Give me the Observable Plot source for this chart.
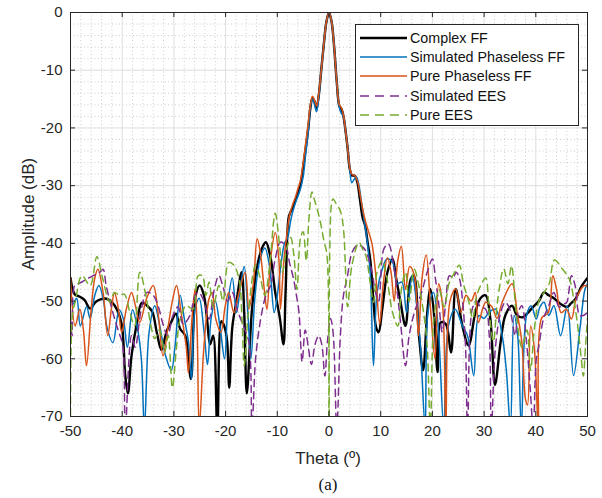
<!DOCTYPE html>
<html><head><meta charset="utf-8">
<script src="https://cdn.jsdelivr.net/npm/d3@7"></script>
<script src="https://cdn.jsdelivr.net/npm/@observablehq/plot@0.6"></script>
<style>
body{margin:0;background:#fff;font-family:"Liberation Sans",Arial,sans-serif;color:#262626;}
#wrap{position:relative;width:602px;height:498px;overflow:hidden;}
.lab{position:absolute;white-space:nowrap;font-size:17px;color:#262626;}
#legend{position:absolute;left:355px;top:24px;width:224px;height:102px;border:1px solid #262626;background:#fff;box-sizing:border-box;padding-top:3px;}
.row{display:flex;align-items:center;height:19.4px;font-size:14.3px;color:#111;}
.row svg{margin-left:4px;margin-right:3px;}
</style></head><body><div id="wrap"></div>
<script>
// ---- tick labels ----
const xTicks = [-50, -40, -30, -20, -10, 0, 10, 20, 30, 40, 50];
const yTicks = [0, -10, -20, -30, -40, -50, -60, -70];
const xMinor = [-48,-46,-44,-42,-38,-36,-34,-32,-28,-26,-24,-22,-18,-16,-14,-12,-8,-6,-4,-2,2,4,6,8,12,14,16,18,22,24,26,28,32,34,36,38,42,44,46,48];
const yMinor = [-2,-4,-6,-8,-12,-14,-16,-18,-22,-24,-26,-28,-32,-34,-36,-38,-42,-44,-46,-48,-52,-54,-56,-58,-62,-64,-66,-68];

// ---- series names ----
const seriesNames = ["Complex FF", "Simulated Phaseless FF", "Pure Phaseless FF", "Simulated EES", "Pure EES"];

// ---- Complex FF ----
const thetaComplex = [-50,-49.2,-48.3,-47.3,-46.2,-45.2,-44.2,-43,-42,-41,-40.1,-39.4,-38.9,-38.2,-37.2,-36.2,-35.2,-34.2,-33.3,-32.4,-31.4,-30.6,-29.6,-28.8,-27.8,-26.7,-25.8,-25,-24.2,-23.6,-23,-22.4,-21.6,-20.8,-20.2,-19.7,-19.3,-18.7,-17.8,-16.9,-16.4,-15.9,-14.9,-13.9,-12.8,-12.2,-11.3,-10.4,-9.5,-8.8,-8.4,-7.8,-7.4,-7,-6.5,-6,-5.5,-5,-4.5,-4,-3.6,-3.2,-2.8,-2.4,-2,-1.5,-1,-0.5,0,0.5,1,1.5,2,2.4,2.8,3.2,3.6,4,4.4,5,5.5,6,6.5,7,7.5,8,8.6,9.1,9.6,10.3,11.3,12.3,12.9,13.8,14.8,15.8,16.4,17.4,18.2,19,19.6,20.3,21,21.6,22.6,23.6,24.5,25.8,27,28.3,29.3,30.3,31.2,32.1,33.2,34.1,35.4,36.4,37.5,38.5,39.5,40.6,41.6,42.5,43.5,44.8,46.1,46.7,47.7,48.8,50];
const ampComplex = [-46,-48.8,-49.2,-49.8,-51.3,-50.2,-49.7,-49.6,-50.2,-51.5,-54,-63,-66,-59.5,-54,-50.3,-50.8,-51.8,-55.5,-58.5,-55.2,-53.8,-52.2,-54.8,-56,-63.5,-49,-47.3,-49,-53,-57.5,-56,-72,-53.5,-54.5,-57,-65,-54.5,-49.5,-45,-52,-66,-51.5,-44,-40.5,-39.8,-42.5,-48.5,-53,-57.5,-48.5,-35.5,-34.5,-33.8,-32.5,-31.3,-29.8,-26.8,-23.5,-20,-16.5,-14.8,-15.4,-16.5,-14.5,-10,-5.5,-1.6,0,-1.6,-6,-12,-16.2,-16.7,-18,-20.5,-23.5,-27,-28.2,-28.3,-29.5,-32.5,-35.5,-37,-40,-43,-50,-54.5,-55.4,-51.4,-45,-42.7,-45.6,-50,-54.3,-46.2,-45.6,-56,-62,-52,-47.9,-52,-62.3,-53.7,-54,-58.9,-47.9,-54.3,-57.7,-52,-49.5,-49,-53,-64.5,-57.1,-52.5,-50.8,-52.5,-52.8,-52,-51,-50,-48.5,-49,-49.5,-50.5,-51,-50.5,-49.6,-47.5,-46];

// ---- Simulated Phaseless FF ----
const thetaSimFF = [-50,-49.5,-48.8,-48.1,-46.9,-46.2,-45.3,-44.5,-43.6,-43,-41.8,-40.6,-39.8,-39,-38,-37,-36.3,-35.7,-34.8,-33.7,-32.8,-31.6,-30.5,-29.8,-28.8,-28,-27.2,-26.6,-25.9,-25.1,-24.2,-23.5,-22.8,-22,-21,-20.2,-19.5,-18.7,-17.9,-17.2,-16.4,-15.7,-15.1,-14.3,-13.4,-12.4,-11.5,-10.6,-10,-9.2,-8.6,-8,-7.4,-7,-6.5,-6,-5.5,-5,-4.5,-4,-3.6,-3.2,-2.8,-2.4,-2,-1.5,-1,-0.5,0,0.5,1,1.5,2,2.4,2.8,3.2,3.6,4,4.4,4.8,5.3,5.8,6.3,6.8,7.3,8,8.6,9.3,10.3,11.2,12.3,13.2,14.1,15,16.1,17,17.7,18.6,19.2,20.2,21.1,22.2,23.1,24.4,25.8,26.8,28,29,30,30.9,32.2,33.5,34.3,35.1,35.8,36.5,37.2,38.2,39.1,40.1,40.8,41.6,42.5,43.5,44.8,46.1,47.3,48.6,49.5,50];
const ampSimFF = [-48.5,-50.5,-49.5,-54.3,-51,-53,-49,-47.3,-50,-54.3,-57.2,-51.5,-53,-58,-51.5,-55,-60,-72,-55.4,-50.8,-54,-59.5,-62,-58,-49,-53,-57,-63.5,-51.4,-49.5,-55,-61,-53,-50,-55,-60,-50,-46,-52,-48,-44,-52,-60,-49,-43,-40.8,-44,-52,-49,-43,-40,-39,-36,-34.5,-33,-31.8,-30.5,-28.5,-24.5,-20.5,-16.5,-15,-16,-17.2,-14.8,-10,-5.5,-1.6,0,-1.6,-6,-12,-16.5,-17.5,-18,-20.7,-23.5,-27,-29.5,-29,-28.5,-30,-33,-36,-39,-45.6,-61.2,-48.5,-44.5,-42.7,-43.3,-47,-46.7,-52,-45.6,-51,-58,-72,-51.4,-48.5,-54.3,-72,-54.3,-51.4,-54.3,-56,-62.9,-52.5,-53,-52,-51.4,-56,-62,-72,-52.5,-56,-72,-52.5,-50.8,-53.1,-51,-50.2,-52.5,-50.8,-56,-50.8,-62.9,-54.3,-48,-47];

// ---- Pure Phaseless FF ----
const thetaPureFF = [-50,-49.1,-48.2,-47.5,-46.9,-46,-45.3,-44.7,-43.7,-42.8,-42.1,-41.5,-40.8,-40.1,-39.2,-38.2,-37.4,-36.6,-35.3,-34,-33,-32.1,-31.1,-30.3,-29.5,-28.6,-27.6,-27.2,-26.5,-25.9,-25.5,-25.1,-24.2,-23.2,-22.6,-21.9,-20.9,-20.1,-19.4,-18.4,-17.4,-16.2,-15.5,-14.6,-13.9,-13.3,-12.6,-12,-11.3,-10.4,-9.7,-9.4,-8.7,-8.1,-7.6,-7,-6.5,-6,-5.5,-5,-4.5,-4,-3.6,-3.2,-2.8,-2.4,-2,-1.5,-1,-0.5,0,0.5,1,1.5,2,2.4,2.8,3.2,3.6,4,4.4,5,5.5,6,6.5,7,7.7,8.3,9,9.8,10.5,11.3,12,12.6,13.3,14,14.8,15.6,16.5,17.3,18,18.8,19.7,20.5,21.2,22,22.6,23.4,24.5,25.5,26.5,27.5,28.3,28.9,30.3,31.5,32.5,33.5,35.4,36.4,37.3,38,38.4,39,39.7,40.5,41.1,42.4,43.3,44,44.9,45.9,46.9,47.8,49.4,50];
const ampPureFF = [-46,-54.3,-51.4,-55,-61.2,-51.4,-46,-44.5,-48.5,-56,-51.4,-48.5,-51,-55.4,-51.4,-48.5,-51,-53.7,-49.6,-47.3,-52.5,-59.5,-54.3,-50,-47.3,-52,-58,-62.4,-53,-47.9,-55,-72,-58,-49.6,-48.5,-53.1,-55.4,-51,-48.5,-52,-48.5,-45,-51.4,-46.7,-39.2,-41.5,-47.3,-51.4,-42.7,-38.1,-42.7,-51.4,-42.7,-38,-35,-33.2,-32,-30.5,-29,-26,-22.5,-19,-16,-14.5,-15.2,-16.2,-14.2,-10,-5.5,-1.6,0,-1.6,-6,-12,-16,-16.5,-17.8,-20.5,-23.5,-26.8,-28,-28.3,-29.2,-31.5,-34,-36,-38.1,-40,-45,-54,-47,-42.5,-45,-50,-43,-40.5,-48,-44,-45.5,-56,-46,-42,-52,-60,-47,-51,-72,-50,-47.9,-52,-49,-50,-48.5,-53.7,-50.2,-51,-53,-50.2,-47,-52,-57.1,-67,-68,-54.3,-58,-72,-53,-52,-45.6,-47.9,-52,-51.4,-53.1,-49.6,-47.3,-47.5];

// ---- Simulated EES ----
const thetaSimEES = [-50,-49.7,-49.2,-48.5,-47.8,-46.9,-45.6,-44.3,-43.7,-43.1,-41.8,-40.8,-39.9,-39.4,-38.2,-37.5,-36.3,-35.2,-34,-33,-32.2,-31.2,-30.2,-29.2,-28.2,-26.9,-25.9,-25.2,-24.2,-23.2,-22.2,-21.3,-20.5,-19.6,-18.7,-17.8,-16.7,-15.5,-14.9,-14.2,-13.2,-12.2,-11.3,-10.4,-9.4,-8.4,-7.6,-6.9,-6.3,-5.8,-5.2,-4.6,-4,-3.4,-2.7,-2,-1.4,-0.8,-0.3,0.3,0.8,1.5,2.2,2.8,3.5,4.5,5.5,6.3,7.1,8.3,9,9.6,10.6,11.5,12.3,13.2,13.9,14.8,15.5,16.5,17.9,19,20,20.6,21.3,21.9,22.6,23.3,24,24.6,25.2,25.8,26.4,26.8,27.7,28.5,29.3,30.3,31,31.4,32.2,33.2,34.1,35,36,36.6,37.3,38.2,38.9,39.5,40.1,40.6,41.5,42.5,43.5,44.5,45.5,46,46.9,47.6,48.5,49.2,50];
const ampSimEES = [-53,-56,-47.3,-47,-46.7,-46.2,-45.6,-45,-44.5,-47.3,-52,-55,-57.7,-72,-56,-58,-51.4,-48.5,-49,-51,-53.7,-56,-52.5,-51,-54,-52.5,-49,-48.5,-50,-53.1,-48,-45.6,-47.5,-50,-48.5,-51.4,-54,-57.1,-72,-60,-53,-49,-47.3,-42.7,-39.8,-40.4,-43.5,-46,-49,-52,-60.5,-55,-58,-61,-57.5,-56,-57.5,-63,-57,-53,-55.5,-72,-56,-49,-46,-41.5,-40.3,-40.5,-41.3,-44.9,-48.5,-50,-41,-40.1,-42.7,-48.5,-54.3,-61.2,-56,-52,-48.5,-45,-42.7,-46.2,-51,-55.4,-50,-45.6,-46,-45,-46,-49.6,-57.7,-72,-51.4,-50,-51,-51.4,-56,-72,-58,-52,-50.2,-51.5,-56,-52,-50.8,-57.1,-64.9,-72,-60,-57.7,-53,-50.8,-48.5,-51,-50.5,-50.2,-45.6,-47.3,-52.5,-52.5,-52];

// ---- Pure EES ----
const thetaPureEES = [-50,-49.6,-49.1,-47.8,-46.2,-44.9,-43.8,-42.4,-41.5,-40.5,-39.6,-38.5,-37.6,-36.6,-35.3,-34.5,-33.7,-32.8,-31.8,-31.1,-30.3,-29.5,-28.8,-27.6,-26.3,-25.3,-24.5,-23.8,-23.2,-22.4,-21.3,-20.5,-19.4,-18.4,-17.4,-16.8,-16.4,-15.6,-14.2,-13.3,-12.4,-11.5,-10.4,-9.6,-9,-8.2,-7.4,-6.8,-6.2,-5.5,-5,-4.4,-3.9,-3.3,-2.8,-2.3,-1.6,-1,-0.4,0,0.5,0.8,1.3,2.2,2.8,3.6,4.4,5.8,6.5,7.1,8,8.6,9.3,10.3,11,12.3,13.3,14,14.8,15.5,16.5,17.3,18.3,19,19.6,20.3,21.3,22.3,23.2,24.3,25.2,26,27,27.8,28.6,29.5,30.3,31,31.8,32.6,33.8,34.6,35.3,36.2,37.3,38.3,39,39.7,40.6,41.6,42.6,43.6,45.2,46.5,47.4,48.2,48.8,49.2,49.6,50];
const ampPureEES = [-74,-52,-50.2,-45.6,-47.3,-42.3,-46,-50.2,-48.5,-49,-48.8,-52,-54.3,-45,-49.6,-54,-56.5,-55,-58.9,-56,-65,-58,-53.1,-50.8,-51.4,-45.6,-45.6,-49,-46.7,-51,-47.3,-50,-43.3,-43.8,-46.2,-53.7,-61.2,-52,-43.8,-46,-49,-44,-34.8,-40,-45,-41,-39,-42,-48,-39,-38,-43,-36,-31.1,-32.5,-34,-36.6,-39.5,-42,-80,-33,-32.3,-33,-34.4,-37.5,-51,-44,-39.8,-41,-42,-47,-50.2,-45,-43,-45,-52,-54.3,-48,-45,-50,-44.5,-47,-52,-58,-72,-53,-48,-51,-47,-45,-43.8,-47,-50,-53,-49,-47,-46,-52,-57,-50,-44.4,-47,-43.9,-52,-58,-55,-62,-55,-50,-48.5,-47,-42.9,-44.5,-46.2,-50,-55,-60,-63,-58,-53];

const series = [
  {name: seriesNames[0], t: thetaComplex, a: ampComplex, color: "#000000", w: 2.4, dash: null},
  {name: seriesNames[1], t: thetaSimFF, a: ampSimFF, color: "#0072BD", w: 1.5, dash: null},
  {name: seriesNames[2], t: thetaPureFF, a: ampPureFF, color: "#D95319", w: 1.5, dash: null},
  {name: seriesNames[3], t: thetaSimEES, a: ampSimEES, color: "#7E2F8E", w: 1.5, dash: "7,5"},
  {name: seriesNames[4], t: thetaPureEES, a: ampPureEES, color: "#77AC30", w: 1.5, dash: "7,5"}
];

const lineMarks = series.map(s => Plot.line(s.t.map((x, i) => ({x, y: s.a[i]})), {
  x: "x", y: "y", stroke: s.color, strokeWidth: s.w, strokeDasharray: s.dash,
  curve: "catmull-rom", clip: true
}));

const ax = "#262626";
const chart = Plot.plot({
  width: 602, height: 468,
  marginLeft: 70, marginRight: 15, marginTop: 12, marginBottom: 52,
  x: {domain: [-50, 50]},
  y: {domain: [-70, 0]},
  style: {fontFamily: "'Liberation Sans', Arial, sans-serif", fontSize: "15px", color: ax, background: "white", overflow: "visible"},
  marks: [
    Plot.gridX({ticks: xMinor, stroke: "#b8b8b8", strokeOpacity: 1, strokeWidth: 0.7, strokeDasharray: "1,2.5"}),
    Plot.gridY({ticks: yMinor, stroke: "#b8b8b8", strokeOpacity: 1, strokeWidth: 0.7, strokeDasharray: "1,2.5"}),
    Plot.gridX({ticks: xTicks, stroke: "#dedede", strokeOpacity: 1, strokeWidth: 1}),
    Plot.gridY({ticks: yTicks, stroke: "#dedede", strokeOpacity: 1, strokeWidth: 1}),
    ...lineMarks,
    Plot.ruleX(xTicks, {x: d => d, y1: -70, y2: -69.13, stroke: ax}),
    Plot.ruleX(xTicks, {x: d => d, y1: 0, y2: -0.87, stroke: ax}),
    Plot.ruleY(yTicks, {y: d => d, x1: -50, x2: -49.03, stroke: ax}),
    Plot.ruleY(yTicks, {y: d => d, x1: 50, x2: 49.03, stroke: ax}),
    Plot.frame({stroke: ax, strokeWidth: 1}),
    Plot.axisX({ticks: xTicks, tickSize: 0, tickPadding: 9, tickFormat: d => String(d), label: null, fontSize: 15}),
    Plot.axisY({ticks: yTicks, tickSize: 0, tickPadding: 8, tickFormat: d => String(d), label: null, fontSize: 15})
  ]
});

const wrap = document.getElementById("wrap");
wrap.appendChild(chart);

function addLabel(text, css) {
  const d = document.createElement("div");
  d.className = "lab";
  d.textContent = text;
  Object.assign(d.style, css);
  wrap.appendChild(d);
}
addLabel("Amplitude (dB)", {left: "29px", top: "214px", transform: "translate(-50%,-50%) rotate(-90deg)"});
addLabel("Theta (º)", {left: "328px", top: "459px", transform: "translate(-50%,-50%)"});
addLabel("(a)", {left: "328px", top: "485px", transform: "translate(-50%,-50%)", fontFamily: "'Liberation Serif', 'Times New Roman', serif", fontSize: "17px", color: "#111"});

const lg = document.createElement("div");
lg.id = "legend";
series.forEach(s => {
  const r = document.createElement("div");
  r.className = "row";
  r.innerHTML = `<svg width="47" height="6"><line x1="0" y1="3" x2="47" y2="3" stroke="${s.color}" stroke-width="${s.w}" ${s.dash ? `stroke-dasharray="9,6"` : ""}/></svg><span></span>`;
  r.querySelector("span").textContent = s.name;
  lg.appendChild(r);
});
wrap.appendChild(lg);
</script></body></html>
